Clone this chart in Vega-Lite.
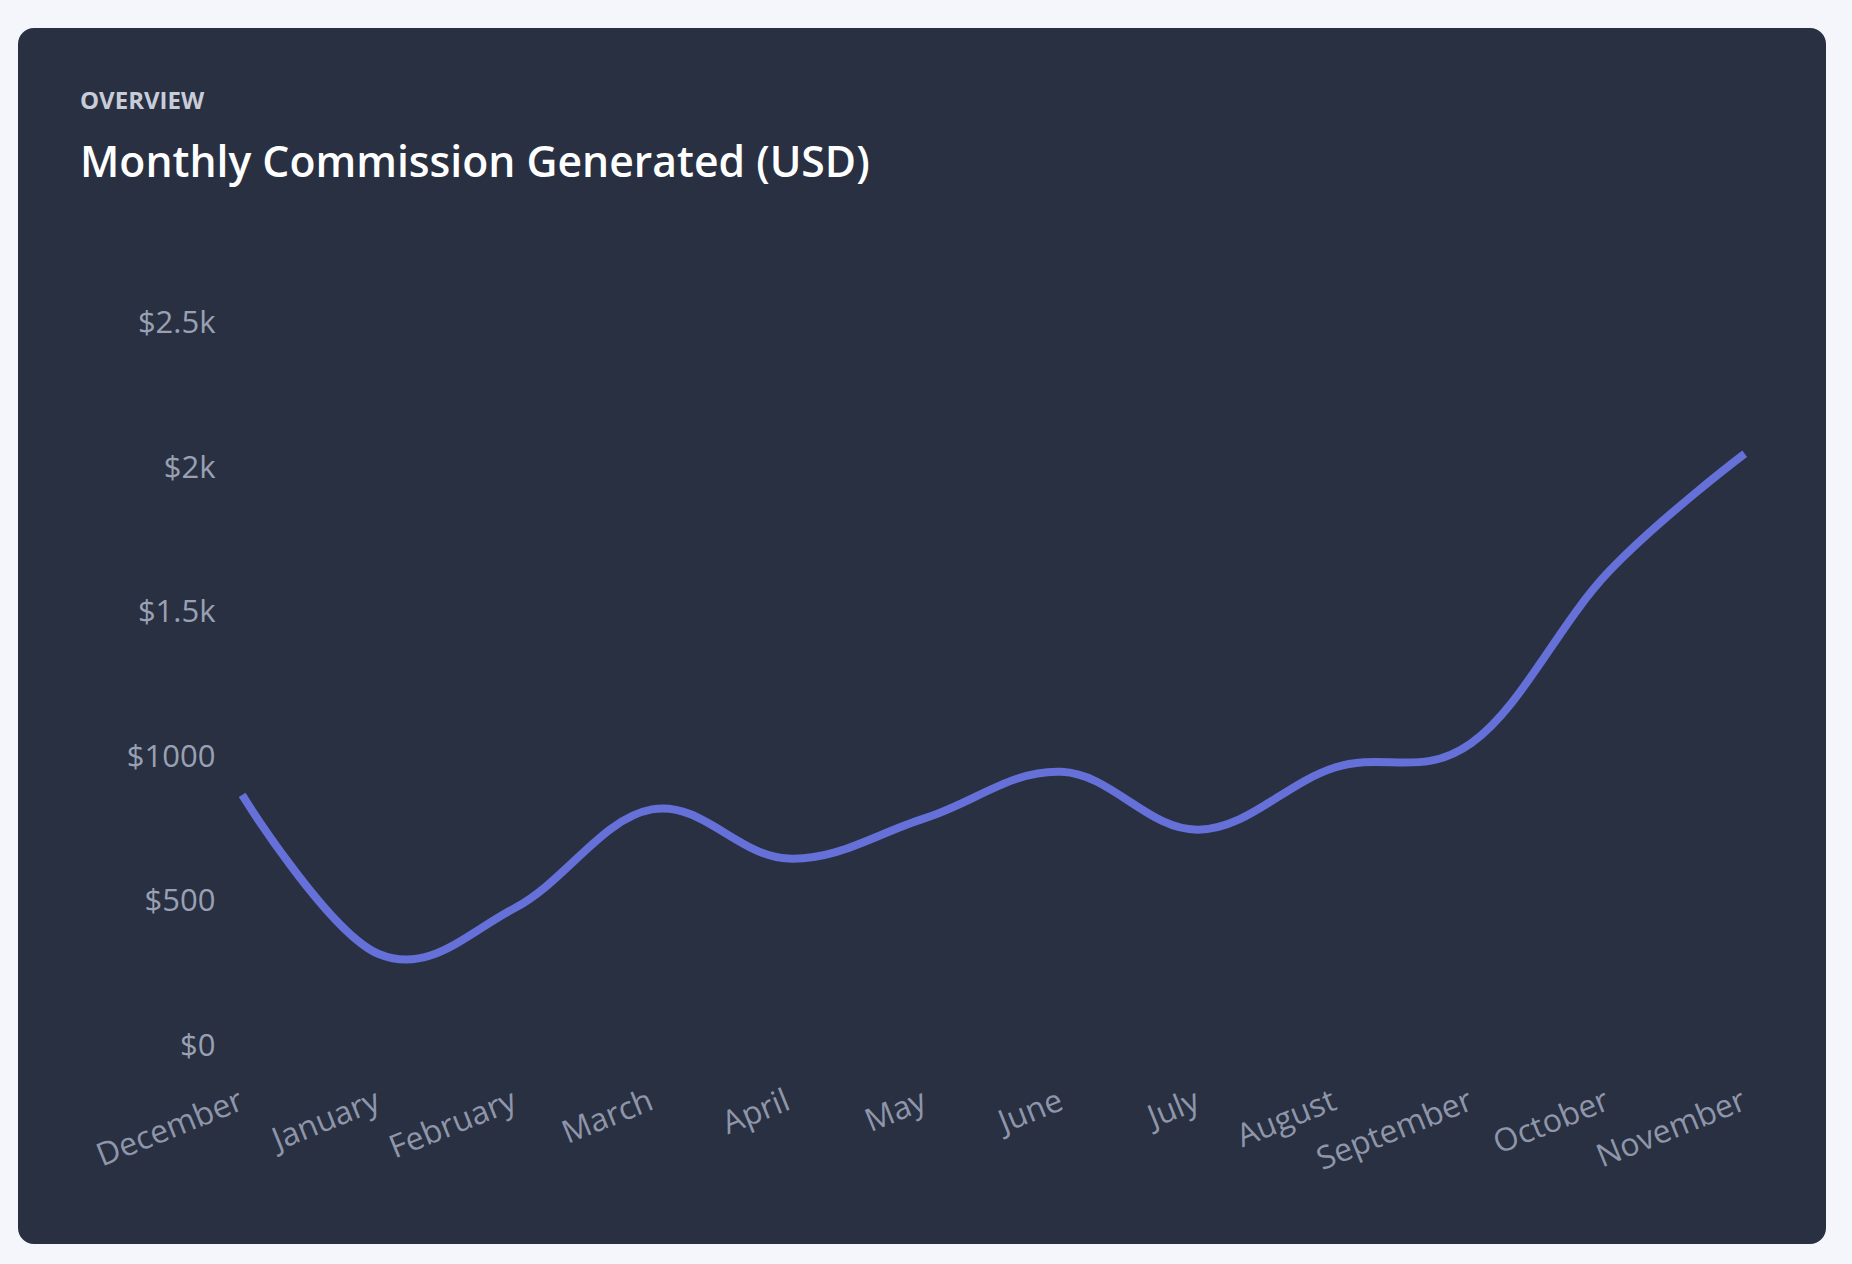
{
  "$schema": "https://vega.github.io/schema/vega-lite/v6.json",
  "width": 1852,
  "height": 1264,
  "autosize": {"type": "fit", "contains": "padding"},
  "padding": {"left": 18, "top": 28, "right": 26, "bottom": 20},
  "background": "#f5f6fb",
  "config": {
    "view": {"fill": "#283042", "cornerRadius": 16, "stroke": null},
    "font": "Open Sans"
  },
  "title": {
    "text": "OVERVIEW",
    "subtitle": "Monthly Commission Generated (USD)",
    "anchor": "start",
    "frame": "group",
    "offset": -158,
    "dx": 62,
    "font": "Open Sans",
    "fontSize": 24,
    "fontWeight": 700,
    "color": "#c8ccd8",
    "subtitleFont": "Open Sans",
    "subtitleFontSize": 42.7,
    "subtitleFontWeight": 600,
    "subtitleColor": "#ffffff",
    "subtitlePadding": 29
  },
  "data": {
    "values": [
      {"month": "December", "usd": 870},
      {"month": "January", "usd": 320},
      {"month": "February", "usd": 480},
      {"month": "March", "usd": 820},
      {"month": "April", "usd": 650},
      {"month": "May", "usd": 790},
      {"month": "June", "usd": 950},
      {"month": "July", "usd": 750},
      {"month": "August", "usd": 965},
      {"month": "September", "usd": 1050},
      {"month": "October", "usd": 1640},
      {"month": "November", "usd": 2050}
    ]
  },
  "mark": {
    "type": "line",
    "interpolate": "cardinal",
    "tension": -0.1,
    "color": "#6570d8",
    "strokeWidth": 8,
    "strokeCap": "butt"
  },
  "encoding": {
    "x": {
      "field": "month",
      "type": "ordinal",
      "sort": null,
      "scale": {"type": "band", "paddingInner": 0, "paddingOuter": 0.618, "align": 0.923},
      "axis": {
        "title": null,
        "labelAngle": -22,
        "labelAlign": "right",
        "labelBaseline": "top",
        "labelFontSize": 32,
        "labelColor": "#8f96aa",
        "labelPadding": 0,
        "labelOffset": -6,
        "labelOverlap": false,
        "labelBound": false,
        "labelFlush": false,
        "domain": false,
        "ticks": false,
        "tickSize": 0,
        "grid": false,
        "offset": -159
      }
    },
    "y": {
      "field": "usd",
      "type": "quantitative",
      "scale": {"domain": [-683.1, 3522.8], "nice": false, "zero": false},
      "axis": {
        "title": null,
        "values": [0, 500, 1000, 1500, 2000, 2500],
        "labelExpr": "datum.value == 0 ? '$0' : datum.value == 500 ? '$500' : datum.value == 1000 ? '$1000' : datum.value == 1500 ? '$1.5k' : datum.value == 2000 ? '$2k' : '$2.5k'",
        "labelFontSize": 31,
        "labelColor": "#9aa0b3",
        "labelPadding": 0,
        "labelBound": false,
        "labelFlush": false,
        "labelOverlap": false,
        "domain": false,
        "ticks": false,
        "tickSize": 0,
        "grid": false,
        "offset": -197
      }
    }
  }
}
